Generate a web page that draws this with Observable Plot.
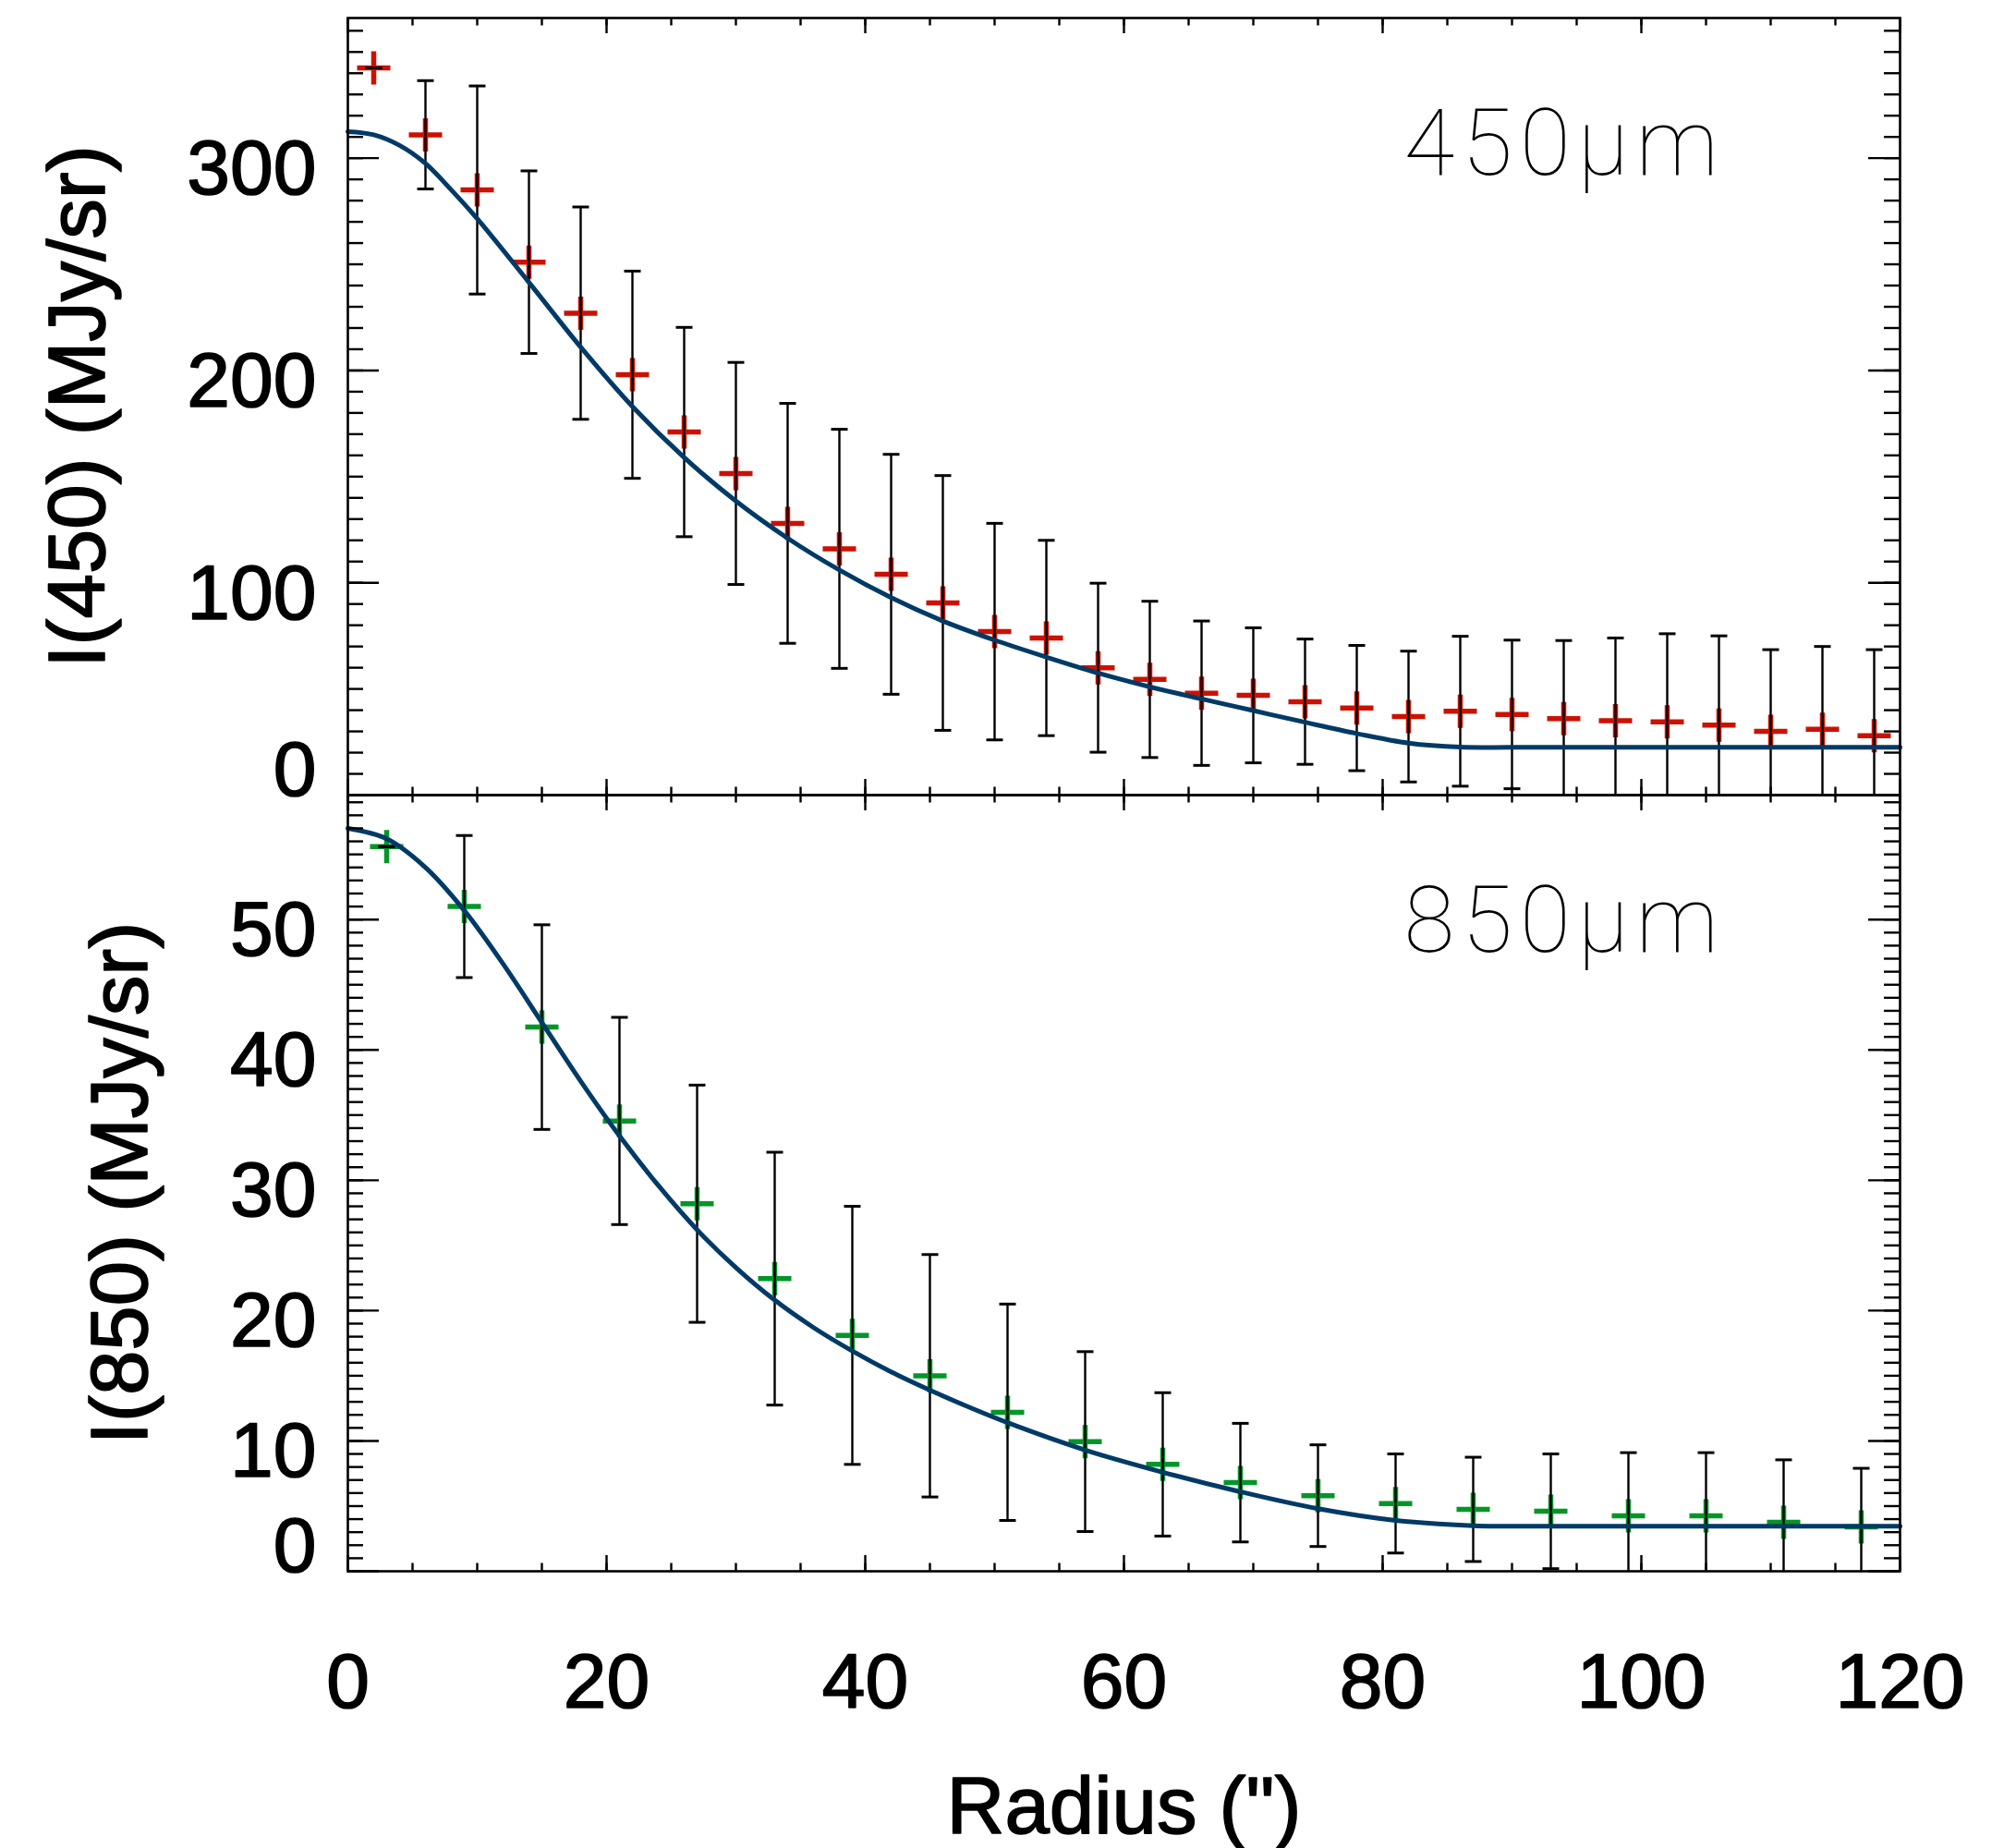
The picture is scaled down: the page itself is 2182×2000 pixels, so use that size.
<!DOCTYPE html>
<html><head><meta charset="utf-8">
<script src="https://cdn.jsdelivr.net/npm/d3@7"></script>
<script src="https://cdn.jsdelivr.net/npm/@observablehq/plot@0.6"></script>
<style>
body{margin:0;background:#fff;}
#chart{position:relative;width:2182px;height:2000px;background:#fff;overflow:hidden;}
#chart svg{position:absolute;left:0;overflow:visible;}
</style></head><body><div id="chart"></div>
<script>
// ---- 450 micron panel ----
const x450 = [2,6,10,14,18,22,26,30,34,38,42,46,50,54,58,62,66,70,74,78,82,86,90,94,98,102,106,110,114,118];
const i450 = [342.5,311,285,251,227,198,171,151.5,128,116,104,90.5,77,74,60,54.5,48,47,44,41,37,39.5,38,36,35,34.5,33,30,31,28];
const e450 = [0,25.5,49,43,50,48.8,49.3,52.3,56.5,56.3,56.5,60,51,46,39.8,36.8,34,31.8,29.5,29.5,30.8,35.3,35,36.8,39,41.5,42,38.5,39,40.5];
const modelX450 = [0,2,4,6,8,10,14,18,22,26,30,34,38,42,46,50,54,58,62,66,70,74,78,82,86,90,100,110,120];
const modelY450 = [312.5,311,306,297.5,285,271.5,241.5,211,183,159,138.5,121,106,93,82,73,65,57.5,51,45.3,39.8,34.3,29,24.5,22.6,22.5,22.5,22.5,22.5];
const yMajor450 = [0,100,200,300];

// ---- 850 micron panel ----
const x850 = [3,9,15,21,27,33,39,45,51,57,63,69,75,81,87,93,99,105,111,117];
const i850 = [55.6,51.0,41.75,34.55,28.2,22.45,18.1,15.0,12.2,9.95,8.2,6.8,5.8,5.2,4.75,4.6,4.25,4.25,3.75,3.4];
const e850 = [0,5.45,7.85,7.95,9.1,9.7,9.9,9.3,8.3,6.9,5.5,4.55,3.9,3.8,4.0,4.4,4.85,4.85,4.8,4.5];
const modelX850 = [0,3,6,9,12,15,18,21,24,27,30,33,36,39,42,45,48,51,57,63,69,75,81,87,93,100,110,120];
const modelY850 = [57.0,56.2,54.0,50.7,46.6,42.1,37.6,33.4,29.6,26.2,23.3,20.8,18.7,16.9,15.3,13.9,12.6,11.4,9.3,7.6,6.1,4.8,3.9,3.5,3.45,3.45,3.45,3.45];
const yMajor850 = [0,10,20,30,40,50];

const xMajor = [0,20,40,60,80,100,120];
const xTitle = 'Radius (")';

const plusSymbol = {draw(ctx, size){const r=Math.sqrt(size/Math.PI);ctx.moveTo(-r,0);ctx.lineTo(r,0);ctx.moveTo(0,-r);ctx.lineTo(0,r);}};
const capSymbol = {draw(ctx, size){const r=Math.sqrt(size/Math.PI);ctx.moveTo(-r,0);ctx.lineTo(r,0);}};

const W = 2182, ML = 376, MR = W - 2056, PW = 2056 - 376;
const FONT = "'Liberation Sans', Arial, Helvetica, sans-serif";
const bold = {fill:"black", stroke:"black", strokeWidth:1.6};

function panel(o){
  const rows = o.xs.map((x,i)=>({x, y:o.ys[i], lo:o.ys[i]-o.es[i], hi:o.ys[i]+o.es[i]}));
  const model = o.mx.map((x,i)=>({x, y:o.my[i]}));
  const PH = o.height - o.mt - o.mb;
  const yMinor = d3.range(o.yDomain[0], o.yDomain[1], o.minorStep);
  const xMinor = d3.range(0, 121, 5);
  const tk = {stroke:"black", strokeWidth:2.4};
  const marks = [
    Plot.dot(rows, {x:"x", y:"y", symbol:plusSymbol, r:18, stroke:o.color, strokeWidth:5.5, fill:"none"}),
    Plot.ruleX(rows, {x:"x", y1:"lo", y2:"hi", stroke:"black", strokeWidth:2.4, clip:true}),
    Plot.dot(rows, {x:"x", y:"lo", symbol:capSymbol, r:9, stroke:"black", strokeWidth:3, fill:"none", clip:true}),
    Plot.dot(rows, {x:"x", y:"hi", symbol:capSymbol, r:9, stroke:"black", strokeWidth:3, fill:"none", clip:true}),
    Plot.line(model, {x:"x", y:"y", curve:"catmull-rom", stroke:"#003a66", strokeWidth:5}),
    // x ticks top & bottom
    Plot.ruleX(xMajor, {x:d=>d, insetBottom:PH-17, ...tk}),
    Plot.ruleX(xMinor, {x:d=>d, insetBottom:PH-8.5, ...tk}),
    Plot.ruleX(xMajor, {x:d=>d, insetTop:PH-17, ...tk}),
    Plot.ruleX(xMinor, {x:d=>d, insetTop:PH-8.5, ...tk}),
    // y ticks left & right
    Plot.ruleY(o.yMajor, {y:d=>d, insetRight:PW-34, ...tk}),
    Plot.ruleY(yMinor, {y:d=>d, insetRight:PW-17, ...tk}),
    Plot.ruleY(o.yMajor, {y:d=>d, insetLeft:PW-34, ...tk}),
    Plot.ruleY(yMinor, {y:d=>d, insetLeft:PW-17, ...tk}),
    Plot.frame({stroke:"black", strokeWidth:2.6}),
    // y tick labels
    Plot.text(o.yMajor.filter(d=>d!==0), {y:d=>d, text:d=>String(d), frameAnchor:"left", textAnchor:"end", dx:-34, dy:12, lineAnchor:"middle", fontSize:84, ...bold}),
    Plot.text(o.yMajor.filter(d=>d===0), {y:d=>d, text:d=>String(d), frameAnchor:"left", textAnchor:"end", dx:-34, dy:0, lineAnchor:"bottom", fontSize:84, ...bold}),
    // y title
    Plot.text([o.title], {frameAnchor:"left", dx:o.titleDx, rotate:-90, textAnchor:"middle", lineAnchor:"bottom", fontSize:87, ...bold}),
    // wavelength label
    Plot.text([o.label], {frameAnchor:"top-left", dx:1519-ML, dy:169, textAnchor:"start", lineAnchor:"bottom", fontSize:100, fontWeight:100, fontFamily:"Roboto, Lato, sans-serif", fill:"black"})
  ];
  if (o.xLabels) {
    marks.push(Plot.text(xMajor, {x:d=>d, text:d=>String(d), frameAnchor:"bottom", dy:121, lineAnchor:"middle", fontSize:84, ...bold}));
    marks.push(Plot.text([xTitle], {frameAnchor:"bottom", dy:283, lineAnchor:"bottom", fontSize:87, ...bold}));
  }
  const svg = Plot.plot({
    width:W, height:o.height,
    marginLeft:ML, marginRight:MR, marginTop:o.mt, marginBottom:o.mb,
    x:{domain:[0,120], axis:null},
    y:{domain:o.yDomain, axis:null},
    style:{fontFamily:FONT, background:"transparent", color:"black"},
    marks
  });
  svg.querySelectorAll("text").forEach(t => { if (t.textContent === o.label) t.style.letterSpacing = "8px"; });
  svg.style.top = o.top + "px";
  return svg;
}

const root = document.getElementById("chart");
root.appendChild(panel({xs:x450, ys:i450, es:e450, mx:modelX450, my:modelY450, color:"#cc1100",
  yDomain:[0,366], yMajor:yMajor450, minorStep:10, label:"450μm", title:"I(450) (MJy/sr)", titleDx:112-ML,
  top:0, height:860, mt:19, mb:0}));
root.appendChild(panel({xs:x850, ys:i850, es:e850, mx:modelX850, my:modelY850, color:"#009628",
  yDomain:[0,59.55], yMajor:yMajor850, minorStep:1, label:"850μm", title:"I(850) (MJy/sr)", titleDx:158-ML,
  top:860, height:1140, mt:0, mb:300, xLabels:true}));
</script></body></html>
